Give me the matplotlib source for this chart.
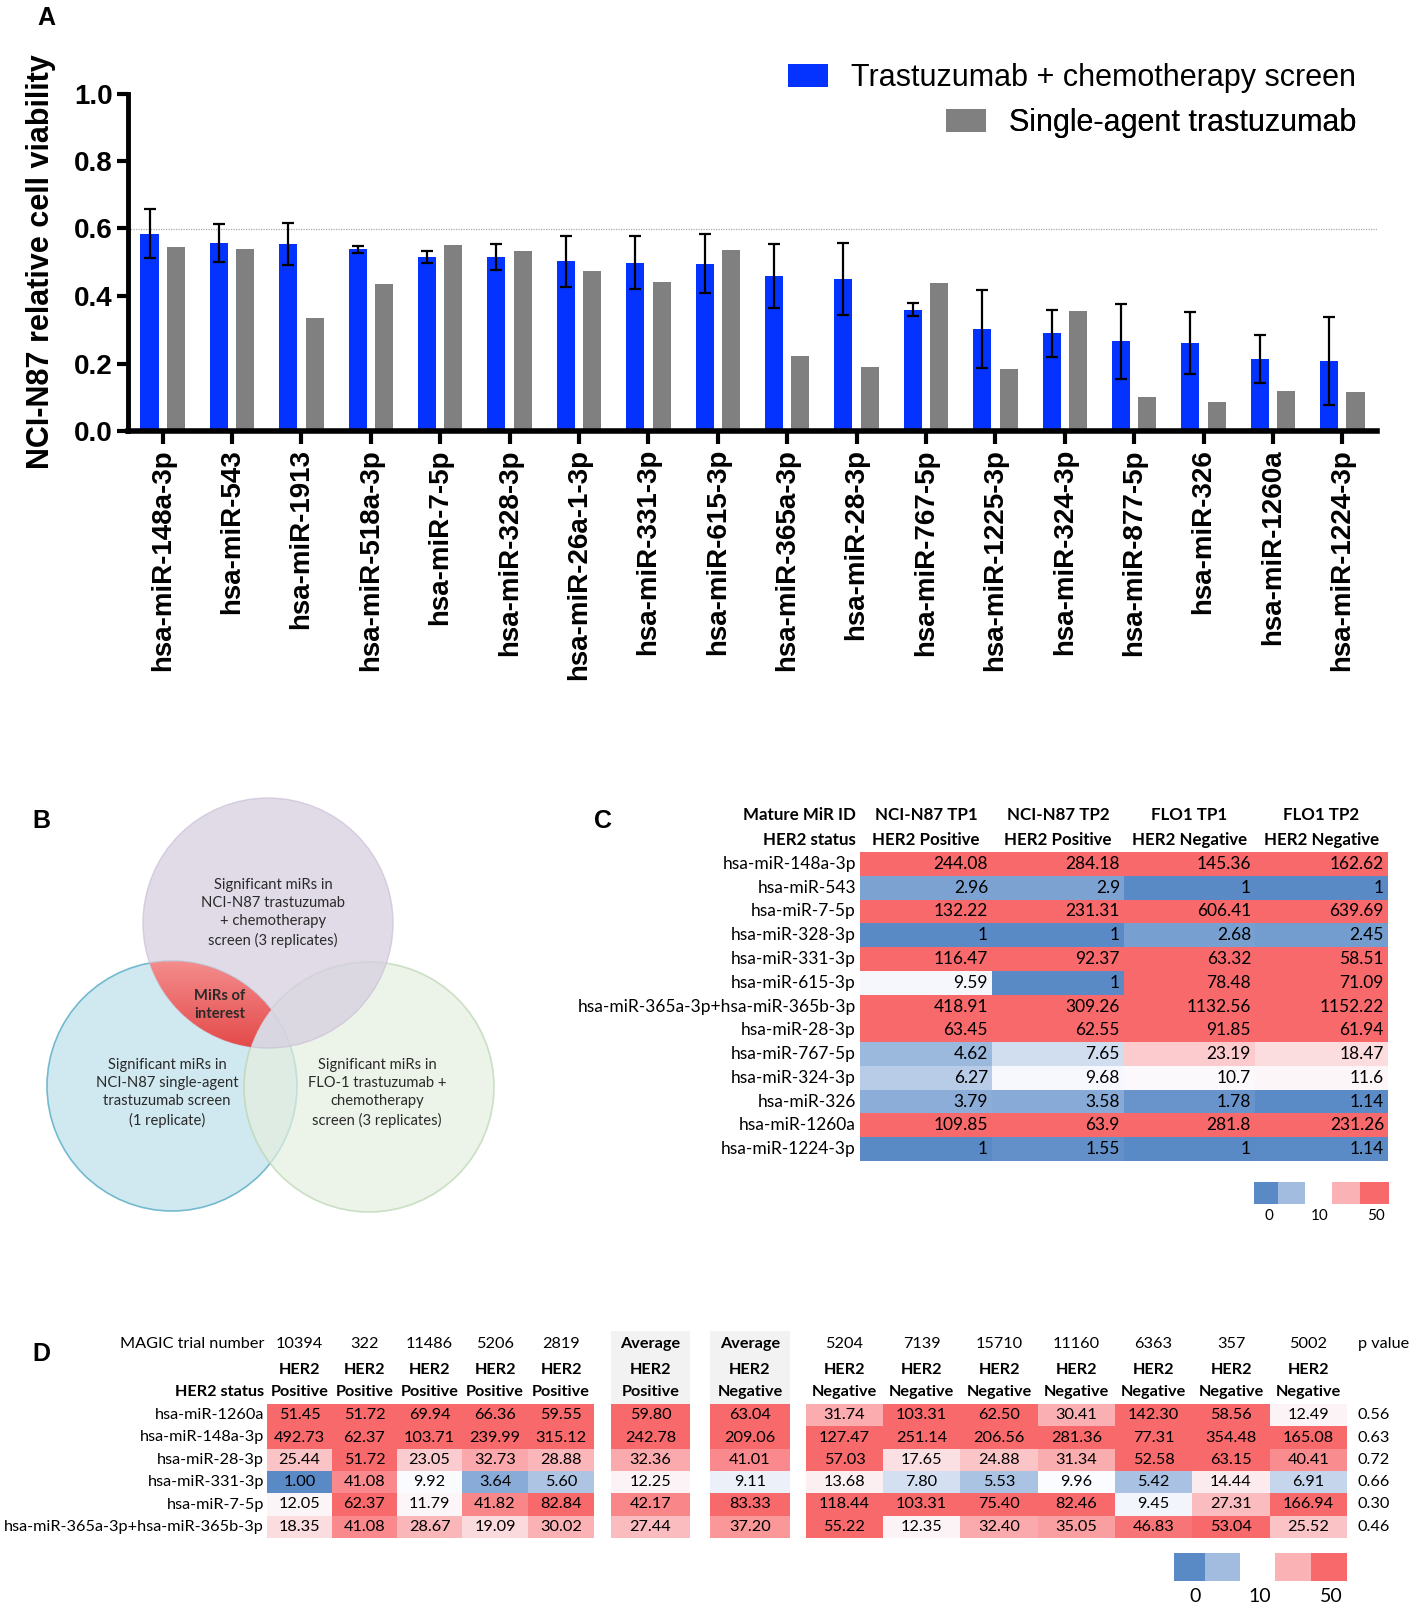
import numpy as np
import matplotlib
matplotlib.use('Agg')
import matplotlib.pyplot as plt
from matplotlib.colors import LinearSegmentedColormap, TwoSlopeNorm
from matplotlib.patches import Rectangle, Circle

# ---------------- data ----------------
# Panel A
mirs_a = ['hsa-miR-148a-3p', 'hsa-miR-543', 'hsa-miR-1913', 'hsa-miR-518a-3p',
          'hsa-miR-7-5p', 'hsa-miR-328-3p', 'hsa-miR-26a-1-3p', 'hsa-miR-331-3p',
          'hsa-miR-615-3p', 'hsa-miR-365a-3p', 'hsa-miR-28-3p', 'hsa-miR-767-5p',
          'hsa-miR-1225-3p', 'hsa-miR-324-3p', 'hsa-miR-877-5p', 'hsa-miR-326',
          'hsa-miR-1260a', 'hsa-miR-1224-3p']
combo_mean = [0.585, 0.557, 0.555, 0.538, 0.515, 0.515, 0.503, 0.499, 0.496,
              0.459, 0.450, 0.360, 0.302, 0.289, 0.266, 0.262, 0.213, 0.207]
combo_err = [0.072, 0.057, 0.062, 0.011, 0.017, 0.038, 0.075, 0.079, 0.087,
             0.094, 0.106, 0.020, 0.116, 0.070, 0.111, 0.092, 0.070, 0.131]
single_agent = [0.545, 0.538, 0.335, 0.437, 0.551, 0.534, 0.473, 0.441, 0.537,
                0.221, 0.191, 0.439, 0.183, 0.356, 0.101, 0.085, 0.118, 0.117]

# Panel C
mirs_c = ['hsa-miR-148a-3p', 'hsa-miR-543', 'hsa-miR-7-5p', 'hsa-miR-328-3p',
          'hsa-miR-331-3p', 'hsa-miR-615-3p', 'hsa-miR-365a-3p+hsa-miR-365b-3p',
          'hsa-miR-28-3p', 'hsa-miR-767-5p', 'hsa-miR-324-3p', 'hsa-miR-326',
          'hsa-miR-1260a', 'hsa-miR-1224-3p']
c_cols = ['NCI-N87 TP1', 'NCI-N87 TP2', 'FLO1 TP1', 'FLO1 TP2']
c_status = ['HER2 Positive', 'HER2 Positive', 'HER2 Negative', 'HER2 Negative']
n87_tp1 = [244.08, 2.96, 132.22, 1, 116.47, 9.59, 418.91, 63.45, 4.62, 6.27, 3.79, 109.85, 1]
n87_tp2 = [284.18, 2.9, 231.31, 1, 92.37, 1, 309.26, 62.55, 7.65, 9.68, 3.58, 63.9, 1.55]
flo1_tp1 = [145.36, 1, 606.41, 2.68, 63.32, 78.48, 1132.56, 91.85, 23.19, 10.7, 1.78, 281.8, 1]
flo1_tp2 = [162.62, 1, 639.69, 2.45, 58.51, 71.09, 1152.22, 61.94, 18.47, 11.6, 1.14, 231.26, 1.14]

# Panel D
mirs_d = ['hsa-miR-1260a', 'hsa-miR-148a-3p', 'hsa-miR-28-3p', 'hsa-miR-331-3p',
          'hsa-miR-7-5p', 'hsa-miR-365a-3p+hsa-miR-365b-3p']
pos_trials = ['10394', '322', '11486', '5206', '2819']
neg_trials = ['5204', '7139', '15710', '11160', '6363', '357', '5002']
pos_vals = [[51.45, 51.72, 69.94, 66.36, 59.55],
            [492.73, 62.37, 103.71, 239.99, 315.12],
            [25.44, 51.72, 23.05, 32.73, 28.88],
            [1.00, 41.08, 9.92, 3.64, 5.60],
            [12.05, 62.37, 11.79, 41.82, 82.84],
            [18.35, 41.08, 28.67, 19.09, 30.02]]
avg_pos = [59.80, 242.78, 32.36, 12.25, 42.17, 27.44]
avg_neg = [63.04, 209.06, 41.01, 9.11, 83.33, 37.20]
neg_vals = [[31.74, 103.31, 62.50, 30.41, 142.30, 58.56, 12.49],
            [127.47, 251.14, 206.56, 281.36, 77.31, 354.48, 165.08],
            [57.03, 17.65, 24.88, 31.34, 52.58, 63.15, 40.41],
            [13.68, 7.80, 5.53, 9.96, 5.42, 14.44, 6.91],
            [118.44, 103.31, 75.40, 82.46, 9.45, 27.31, 166.94],
            [55.22, 12.35, 32.40, 35.05, 46.83, 53.04, 25.52]]
p_values = [0.56, 0.63, 0.72, 0.66, 0.30, 0.46]

legend_vals = [0, 5, 30, 50]
legend_ticks = ['0', '10', '50']

# ---------------- figure ----------------
W, H = 1417, 1609
fig = plt.figure(figsize=(W / 100, H / 100), dpi=100)
fig.patch.set_facecolor('white')

# pixel canvas for the tables, venn and free text
cv = fig.add_axes([0, 0, 1, 1])
cv.set_xlim(0, W)
cv.set_ylim(H, 0)
cv.axis('off')

sans = 'Liberation Sans'
tab = 'Lato'

# excel style blue-white-red scale
cmap = LinearSegmentedColormap.from_list('xl', ['#5A8AC6', '#FCFCFF', '#F8696B'])
cmap.set_bad((0, 0, 0, 0))
norm = TwoSlopeNorm(vmin=1, vcenter=10, vmax=50)

# panel labels
for lab, (px, py) in zip('ABCD', [(46, 18), (41, 821), (603, 821), (41, 1354)]):
    cv.text(px, py, lab, fontsize=18, fontweight='bold', family=sans,
            ha='center', va='center')

# ---------------- A: bar chart ----------------
ax = fig.add_axes([128 / W, 1 - 431 / H, (1377 - 128) / W, (431 - 93.5) / H])
x = np.arange(len(mirs_a))
blue = '#0433FF'
grey = '#808080'
b1 = ax.bar(x - 0.19, combo_mean, 0.26, color=blue, yerr=combo_err,
            error_kw=dict(ecolor='black', elinewidth=1.6, capsize=4, capthick=1.6),
            zorder=2)
b2 = ax.bar(x + 0.19, single_agent, 0.26, color=grey, zorder=2)
ax.axhline(0.6, color='#aaaaaa', lw=0.9, ls=(0, (1, 1)), zorder=1)
ax.set_xlim(-0.5, len(mirs_a) - 0.5)
ax.set_ylim(0, 1.0)
ax.set_yticks(np.arange(0, 1.01, 0.2))
ax.set_yticklabels(['%.1f' % v for v in np.arange(0, 1.01, 0.2)],
                   fontsize=20, fontweight='bold', family=sans)
ax.set_xticks(x)
ax.set_xticklabels(mirs_a, rotation=90, fontsize=20, fontweight='bold',
                   family=sans, va='top')
ax.tick_params(axis='y', length=8, width=3, pad=3)
ax.tick_params(axis='x', length=9, width=3, pad=4)
for s in ['top', 'right']:
    ax.spines[s].set_visible(False)
ax.spines['left'].set_linewidth(3.5)
ax.spines['bottom'].set_linewidth(4)
ax.set_facecolor('none')

cv.text(41, 262, 'NCI-N87 relative cell viability', rotation=90, fontsize=22,
        fontweight='bold', family=sans, ha='center', va='center')

# legend, right aligned like the original
for handle, text, yy in [(b1, 'Trastuzumab + chemotherapy screen', 78),
                         (b2, 'Single-agent trastuzumab', 123)]:
    lg = ax.legend([handle], [text], loc='center right',
                   bbox_to_anchor=(1356 / W, 1 - yy / H), bbox_transform=fig.transFigure,
                   frameon=False, prop=dict(family=sans, size=22),
                   handlelength=1.3, handleheight=0.75, handletextpad=0.75,
                   borderpad=0, borderaxespad=0)
    ax.add_artist(lg)

# ---------------- B: venn ----------------
venn_centres = {'top': (268, 923), 'left': (172, 1086), 'right': (369, 1087)}
rad = 125
cv.add_patch(Circle(venn_centres['left'], rad, facecolor='#C8E4EE', edgecolor='#5FB0C8',
                    lw=1.2, alpha=0.85, zorder=2))
cv.add_patch(Circle(venn_centres['right'], rad, facecolor='#E4EFDF', edgecolor='#B8D5B0',
                    lw=1.2, alpha=0.7, zorder=3))
cv.add_patch(Circle(venn_centres['top'], rad, facecolor='#D6CFE0', edgecolor='#CBC3D8',
                    lw=1.0, alpha=0.75, zorder=4))

# red region = top & left but not right
gx, gy = np.meshgrid(np.arange(140, 300, 0.5), np.arange(955, 1065, 0.5))
def inside(c):
    return (gx - c[0]) ** 2 + (gy - c[1]) ** 2 <= rad ** 2
mask = inside(venn_centres['top']) & inside(venn_centres['left']) & ~inside(venn_centres['right'])
frac = (gy - gy.min()) / (gy.max() - gy.min())
rgba = np.zeros(gx.shape + (4,))
rgba[..., 0] = (245 - 20 * frac) / 255
rgba[..., 1] = (145 - 85 * frac) / 255
rgba[..., 2] = (145 - 85 * frac) / 255
rgba[..., 3] = mask.astype(float)
cv.imshow(rgba, extent=(140, 300, 1065, 955), zorder=5, interpolation='antialiased')
cv.set_xlim(0, W)
cv.set_ylim(H, 0)

venn_font = dict(family=tab, fontsize=10.6, ha='center', va='center',
                 linespacing=1.4, color='#2a2a2a', zorder=6)
cv.text(273, 913, 'Significant miRs in\nNCI-N87 trastuzumab\n+ chemotherapy\nscreen (3 replicates)',
        **venn_font)
cv.text(167, 1093, 'Significant miRs in\nNCI-N87 single-agent\ntrastuzumab screen\n(1 replicate)',
        **venn_font)
cv.text(377, 1093, 'Significant miRs in\nFLO-1 trastuzumab +\nchemotherapy\nscreen (3 replicates)',
        **venn_font)
cv.text(220, 1005, 'MiRs of\ninterest', family=tab, fontsize=10.6, fontweight='bold',
        ha='center', va='center', linespacing=1.3, color='#2a2a2a', zorder=6)

# ---------------- C: table ----------------
c_vals = np.array([n87_tp1, n87_tp2, flo1_tp1, flo1_tp2], dtype=float).T
c_xe = np.array([860, 992, 1124, 1255, 1388])
c_top, c_bot = 852, 1161
c_ye = np.linspace(c_top, c_bot, len(mirs_c) + 1)
cv.pcolormesh(c_xe, c_ye, c_vals, cmap=cmap, norm=norm, zorder=2)
c_fs = 12.5
c_lab_x = 856
cv.text(c_lab_x, 815, 'Mature MiR ID', family=tab, fontsize=12.2, fontweight='bold',
        ha='right', va='center')
cv.text(c_lab_x, 840, 'HER2 status', family=tab, fontsize=12.2, fontweight='bold',
        ha='right', va='center')
for j, (cname, st) in enumerate(zip(c_cols, c_status)):
    xc = (c_xe[j] + c_xe[j + 1]) / 2
    cv.text(xc, 815, cname, family=tab, fontsize=12.2, fontweight='bold', ha='center', va='center')
    cv.text(xc, 840, st, family=tab, fontsize=12.2, fontweight='bold', ha='center', va='center')
for i, m in enumerate(mirs_c):
    yc = (c_ye[i] + c_ye[i + 1]) / 2
    cv.text(c_lab_x, yc, m, family=tab, fontsize=c_fs, ha='right', va='center')
    for j in range(4):
        cv.text(c_xe[j + 1] - 4, yc, '%g' % c_vals[i, j], family=tab, fontsize=c_fs,
                ha='right', va='center', zorder=3)

# colour key C
for (x0, x1), v in zip([(1254, 1278), (1278, 1305), (1332, 1360), (1360, 1389)], legend_vals):
    cv.add_patch(Rectangle((x0, 1182), x1 - x0, 22, facecolor=cmap(norm(v)), edgecolor='none'))
for xx, t in zip([1269, 1320, 1376], legend_ticks):
    cv.text(xx, 1216, t, family=tab, fontsize=11, ha='center', va='center')

# ---------------- D: table ----------------
d_fs = 11.7
d_lab_x = 264
# column edges, gap columns are masked
d_xe = np.array([267, 332, 397, 462, 528, 594, 611, 690, 710, 790, 806,
                 883, 960, 1038, 1115, 1192, 1270, 1347])
d_top, d_bot = 1404, 1538
d_ye = np.linspace(d_top, d_bot, len(mirs_d) + 1)
gap = np.full((len(mirs_d), 1), np.nan)
d_grid = np.hstack([np.array(pos_vals), gap, np.array(avg_pos)[:, None], gap,
                    np.array(avg_neg)[:, None], gap, np.array(neg_vals)])
# light grey header behind the average columns
for k in [6, 8]:
    cv.add_patch(Rectangle((d_xe[k], 1331), d_xe[k + 1] - d_xe[k], d_top - 1331,
                           facecolor='#F2F2F2', edgecolor='none', zorder=1))
cv.pcolormesh(d_xe, d_ye, np.ma.masked_invalid(d_grid), cmap=cmap, norm=norm, zorder=2)

head1 = pos_trials + [None, 'Average', None, 'Average', None] + neg_trials
status = ['Positive'] * 5 + [None, 'Positive', None, 'Negative', None] + ['Negative'] * 7
cv.text(d_lab_x, 1344, 'MAGIC trial number', family=tab, fontsize=d_fs, ha='right', va='center')
cv.text(d_lab_x, 1392, 'HER2 status', family=tab, fontsize=d_fs, fontweight='bold',
        ha='right', va='center')
for k in range(len(head1)):
    if head1[k] is None:
        continue
    xc = (d_xe[k] + d_xe[k + 1]) / 2
    cv.text(xc, 1344, head1[k], family=tab, fontsize=d_fs, ha='center', va='center',
            fontweight='bold' if head1[k] == 'Average' else 'normal', zorder=3)
    cv.text(xc, 1370, 'HER2', family=tab, fontsize=d_fs, fontweight='bold',
            ha='center', va='center', zorder=3)
    cv.text(xc, 1392, status[k], family=tab, fontsize=d_fs, fontweight='bold',
            ha='center', va='center', zorder=3)
cv.text(1358, 1344, 'p value', family=tab, fontsize=d_fs, ha='left', va='center')
for i, m in enumerate(mirs_d):
    yc = (d_ye[i] + d_ye[i + 1]) / 2
    cv.text(d_lab_x, yc, m, family=tab, fontsize=d_fs, ha='right', va='center')
    for k in range(d_grid.shape[1]):
        if np.isnan(d_grid[i, k]):
            continue
        xc = (d_xe[k] + d_xe[k + 1]) / 2
        cv.text(xc, yc, '%.2f' % d_grid[i, k], family=tab, fontsize=d_fs,
                ha='center', va='center', zorder=3)
    cv.text(1358, yc, '%.2f' % p_values[i], family=tab, fontsize=d_fs, ha='left', va='center')

# colour key D
for (x0, x1), v in zip([(1174, 1205), (1205, 1240), (1275, 1311), (1311, 1347)], legend_vals):
    cv.add_patch(Rectangle((x0, 1553), x1 - x0, 28, facecolor=cmap(norm(v)), edgecolor='none'))
for xx, t in zip([1195, 1260, 1331], legend_ticks):
    cv.text(xx, 1596, t, family=tab, fontsize=14, ha='center', va='center')

fig.savefig('out.png', dpi=100)
